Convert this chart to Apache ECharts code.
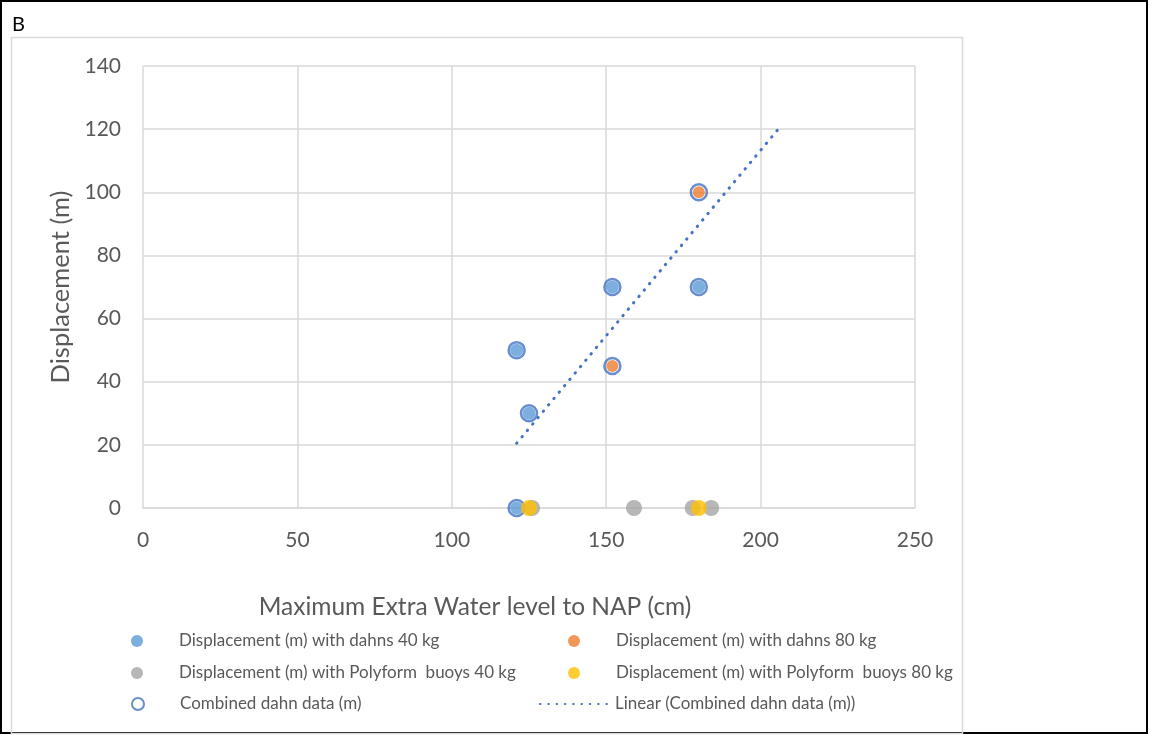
<!DOCTYPE html>
<html>
<head>
<meta charset="utf-8">
<script src="https://cdn.jsdelivr.net/npm/echarts@6/dist/echarts.min.js"></script>
<style>
  html, body { margin: 0; padding: 0; background: #fff; }
  #chart { width: 1149px; height: 735px; }
</style>
</head>
<body>
<div id="chart"></div>
<script>
// Series values: [water level (cm), displacement (m)]
const dahns40 = [[121, 50], [125, 30], [152, 70], [180, 70], [121, 0]];
const dahns80 = [[152, 45], [180, 100]];
const polyform40 = [[126, 0], [159, 0], [178, 0], [184, 0]];
const polyform80 = [[125, 0], [180, 0]];
const combinedDahn = [[121, 50], [125, 30], [152, 70], [180, 70], [121, 0], [152, 45], [180, 100]];
// Linear trend line end points for the combined dahn data
const trendLine = [[121, 20.5], [207, 121.5]];

const xTicks = { min: 0, max: 250, interval: 50 };
const yTicks = { min: 0, max: 140, interval: 20 };

const names = {
  d40: 'Displacement (m) with dahns 40 kg',
  d80: 'Displacement (m) with dahns 80 kg',
  p40: 'Displacement (m) with Polyform  buoys 40 kg',
  p80: 'Displacement (m) with Polyform  buoys 80 kg',
  comb: 'Combined dahn data (m)',
  lin: 'Linear (Combined dahn data (m))'
};

const FONT = 'Lato, "Open Sans", sans-serif';
const gridColor = '#D9D9D9';
const textColor = '#595959';

function legendAt(left, top, name, extra) {
  return Object.assign({
    left: left, top: top, padding: 0,
    itemWidth: 74, itemHeight: 12,
    selectedMode: false,
    textStyle: { fontFamily: FONT, fontSize: 17, lineHeight: 20, color: textColor },
    data: [name]
  }, extra || {});
}

const chart = echarts.init(document.getElementById('chart'), null, { renderer: 'canvas' });
chart.setOption({
  animation: false,
  backgroundColor: '#fff',
  grid: { left: 143, right: 234, top: 66, bottom: 227 },
  xAxis: {
    type: 'value', min: xTicks.min, max: xTicks.max, interval: xTicks.interval,
    name: 'Maximum Extra Water level to NAP (cm)',
    nameLocation: 'middle', nameGap: 87,
    nameTextStyle: { fontFamily: FONT, fontSize: 24.5, color: textColor, padding: [0, 108, 0, 0] },
    axisLine: { show: true, lineStyle: { color: gridColor, width: 1.5 } },
    axisTick: { show: false },
    axisLabel: { fontFamily: FONT, fontSize: 21, color: textColor, margin: 22 },
    splitLine: { show: true, lineStyle: { color: gridColor, width: 1.5 } }
  },
  yAxis: {
    type: 'value', min: yTicks.min, max: yTicks.max, interval: yTicks.interval,
    name: 'Displacement (m)',
    nameLocation: 'middle', nameGap: 68, nameRotate: 90,
    nameTextStyle: { fontFamily: FONT, fontSize: 25.5, color: textColor },
    axisLine: { show: false },
    axisTick: { show: false },
    axisLabel: { fontFamily: FONT, fontSize: 21, color: textColor, margin: 22 },
    splitLine: { show: true, lineStyle: { color: gridColor, width: 1.5 } }
  },
  legend: [
    legendAt(131, 631, names.d40),
    legendAt(568, 631, names.d80),
    legendAt(131, 663, names.p40),
    legendAt(568, 663, names.p80),
    legendAt(131, 694, names.comb, {
      data: [{ name: names.comb, icon: 'circle',
               itemStyle: { color: '#fff', borderColor: '#4472C4', borderWidth: 2 } }]
    }),
    legendAt(539, 694, names.lin, {
      itemWidth: 70,
      data: [{ name: names.lin, itemStyle: { color: 'rgba(0,0,0,0)', borderWidth: 0, opacity: 0 } }]
    })
  ],
  graphic: [
    { type: 'rect', silent: true, z: 100,
      shape: { x: 1, y: 1, width: 1146, height: 732 },
      style: { fill: 'none', stroke: '#000', lineWidth: 2 } },
    { type: 'rect', silent: true, z: 100,
      shape: { x: 11.5, y: 37.5, width: 951, height: 696 },
      style: { fill: 'none', stroke: gridColor, lineWidth: 1.5 } },
    { type: 'text', left: 12, top: 15, z: 100,
      style: { text: 'B', font: '20px ' + FONT, fill: '#000' } }
  ],
  series: [
    {
      name: names.comb, type: 'scatter', data: combinedDahn, z: 2,
      symbol: 'circle', symbolSize: 16,
      itemStyle: { color: 'rgba(0,0,0,0)', borderColor: '#4472C4', borderWidth: 2.5 }
    },
    {
      name: names.d40, type: 'scatter', data: dahns40, z: 3,
      symbol: 'circle', symbolSize: 13,
      itemStyle: { color: '#5B9BD5' }
    },
    {
      name: names.d80, type: 'scatter', data: dahns80, z: 3,
      symbol: 'circle', symbolSize: 12,
      itemStyle: { color: '#ED7D31' }
    },
    {
      name: names.p40, type: 'scatter', data: polyform40, z: 3,
      symbol: 'circle', symbolSize: 16,
      itemStyle: { color: '#A5A5A5' }
    },
    {
      name: names.p80, type: 'scatter', data: polyform80, z: 4,
      symbol: 'circle', symbolSize: 16,
      itemStyle: { color: '#FFC000' }
    },
    {
      name: names.lin, type: 'line', data: trendLine, z: 5,
      symbol: 'none', silent: true,
      lineStyle: { color: '#4472C4', width: 3, type: [0.5, 7.8], cap: 'round' },
      itemStyle: { color: '#4472C4' }
    }
  ]
});
</script>
</body>
</html>
